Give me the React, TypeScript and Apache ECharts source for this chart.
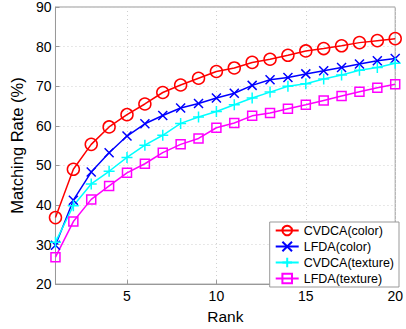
import React, { useEffect, useRef } from "react";
import * as echarts from "echarts";

const ranks = ["1","2","3","4","5","6","7","8","9","10","11","12","13","14","15","16","17","18","19","20"];
const cvdcaColor = [36.8, 49.0, 55.3, 59.7, 62.8, 65.5, 68.4, 70.3, 72.0, 73.7, 74.6, 76.0, 76.8, 77.8, 78.9, 79.5, 80.2, 81.0, 81.5, 82.0];
const lfdaColor = [29.8, 41.2, 48.3, 53.2, 57.4, 60.5, 62.6, 64.5, 65.6, 67.0, 68.2, 70.2, 71.6, 72.2, 73.1, 73.9, 74.7, 75.6, 76.4, 77.0];
const cvdcaTexture = [30.6, 39.8, 45.3, 48.5, 52.0, 55.1, 57.6, 60.6, 62.2, 63.6, 65.3, 67.0, 68.5, 70.0, 70.6, 71.8, 72.8, 74.0, 74.7, 75.8];
const lfdaTexture = [26.8, 35.8, 41.4, 44.8, 48.1, 50.4, 53.2, 55.3, 56.8, 59.5, 60.7, 62.5, 63.2, 64.3, 65.3, 66.4, 67.5, 68.6, 69.6, 70.5];
const seriesNames = ["CVDCA(color)", "LFDA(color)", "CVDCA(texture)", "LFDA(texture)"];

const FONT = "'Liberation Sans', Arial, Helvetica, sans-serif";

export default function App() {
  const ref = useRef<HTMLDivElement>(null);
  useEffect(() => {
    if (!ref.current) return;
    const chart = echarts.init(ref.current, null, { renderer: "svg" });
    const every5 = (index: number) => (index + 1) % 5 === 0;
    const mk = (name: string, data: number[], color: string, symbol: string, size: number) => ({
      name,
      type: "line",
      data,
      symbol,
      symbolSize: size,
      showAllSymbol: true,
      lineStyle: { color, width: 1.5 },
      itemStyle: { color: "rgba(255,255,255,0)", borderColor: color, borderWidth: 1.5 },
      emphasis: { disabled: true },
    });
    chart.setOption({
      animation: false,
      backgroundColor: "#ffffff",
      grid: { left: 46, right: 7, top: 7, bottom: 42, show: true, borderColor: "#999999", borderWidth: 1, backgroundColor: "transparent" },
      legend: {
        orient: "vertical",
        right: 7,
        bottom: 42,
        backgroundColor: "#ffffff",
        borderColor: "#999999",
        borderWidth: 1,
        borderRadius: 0,
        padding: [2, 5, 2, 5],
        itemWidth: 23,
        itemHeight: 12,
        itemGap: 3,
        textStyle: { fontFamily: FONT, fontSize: 12.5, color: "#000" },
        data: seriesNames,
      },
      xAxis: {
        type: "category",
        data: ranks,
        boundaryGap: false,
        name: "Rank",
        nameLocation: "middle",
        nameGap: 17,
        nameTextStyle: { fontFamily: FONT, fontSize: 15.5, color: "#000" },
        axisLine: { lineStyle: { color: "#999999", width: 1 } },
        axisTick: { inside: true, length: 4, interval: every5, lineStyle: { color: "#999999" } },
        axisLabel: { interval: every5, fontFamily: FONT, fontSize: 14, color: "#000", margin: 5 },
        splitLine: { show: true, interval: every5, lineStyle: { color: "#d0d0d0", type: [1, 3], width: 1 } },
      },
      yAxis: {
        type: "value",
        min: 20,
        max: 90,
        interval: 10,
        name: "Matching Rate (%)",
        nameLocation: "middle",
        nameGap: 23,
        nameTextStyle: { fontFamily: FONT, fontSize: 16.5, color: "#000" },
        axisLine: { show: true, lineStyle: { color: "#999999", width: 1 } },
        axisTick: { show: true, inside: true, length: 4, lineStyle: { color: "#999999" } },
        axisLabel: { fontFamily: FONT, fontSize: 14, color: "#000", margin: 4 },
        splitLine: { show: true, lineStyle: { color: "#d0d0d0", type: [1, 3], width: 1 } },
      },
      series: [
        mk(seriesNames[0], cvdcaColor, "#ff0000", "circle", 12),
        mk(seriesNames[1], lfdaColor, "#0000ff", "path://M0,0L10,10M10,0L0,10", 9),
        mk(seriesNames[2], cvdcaTexture, "#00ffff", "path://M5,0L5,10M0,5L10,5", 11),
        mk(seriesNames[3], lfdaTexture, "#ff00ff", "rect", 9),
      ],
    });
    return () => chart.dispose();
  }, []);
  return <div ref={ref} style={{ width: 406, height: 329, position: "absolute", left: 0, top: 0 }} />;
}
